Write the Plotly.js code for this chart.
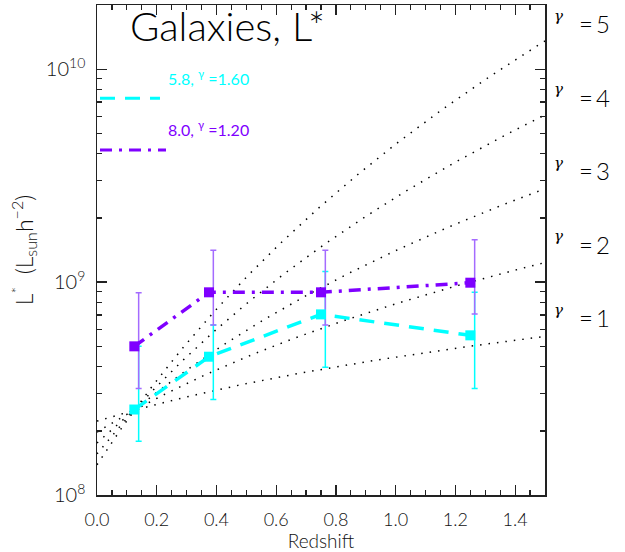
<!DOCTYPE html>
<html>
<head>
<meta charset="utf-8">
<script src="https://cdn.plot.ly/plotly-3.0.1.min.js"></script>
<style>html,body{margin:0;padding:0;background:#fff;}#chart{width:625px;height:552px;}</style>
</head>
<body>
<div id="chart"></div>
<script>
// ---- data ----
const redshift = [0.125, 0.375, 0.75, 1.25];

const cyanL   = [2.52e8, 4.46e8, 7.05e8, 5.62e8];
const cyanHi  = [5.0e8, 6.28e8, 1.12e9, 8.95e8];
const cyanLo  = [1.79e8, 2.81e8, 3.98e8, 3.16e8];

const purpleL  = [4.99e8, 8.95e8, 8.95e8, 9.93e8];
const purpleHi = [8.9e8, 1.41e9, 1.41e9, 1.58e9];
const purpleLo = [3.16e8, 6.28e8, 6.28e8, 7.08e8];

const legendLabels = ['5.8, <sup>γ</sup> =1.60', '8.0, <sup>γ</sup> =1.20'];

// model curves L = L0 * ((1+z)/(1+zPivot))^gamma
const gammas = [1, 2, 3, 4, 5];
const pivotZ = 0.125;
const pivotL = 2.5e8;
const zMax = 1.5;

const CYAN = '#00FFFF', PURPLE = '#7F00FF', PURPLE_ERR = '#A46BFF';

const traces = [];
const nGrid = 151;
const zGrid = Array.from({length: nGrid}, (_, i) => i * zMax / (nGrid - 1));
gammas.forEach(g => {
  traces.push({
    x: zGrid,
    y: zGrid.map(z => pivotL * Math.pow((1 + z) / (1 + pivotZ), g)),
    mode: 'lines', type: 'scatter', hoverinfo: 'skip',
    line: {color: '#000', width: 1.5, dash: '1.5px,7px'},
    showlegend: false
  });
});

function errTrace(y, hi, lo, color) {
  return {
    x: redshift.map(v => v + 0.0145), y: y, mode: 'markers', type: 'scatter',
    marker: {opacity: 0, size: 1}, showlegend: false, hoverinfo: 'skip',
    error_y: {type: 'data', symmetric: false,
      array: hi.map((h, i) => h - y[i]),
      arrayminus: lo.map((l, i) => y[i] - l),
      color: color, thickness: 1.5, width: 3}
  };
}
traces.push(errTrace(cyanL, cyanHi, cyanLo, CYAN));
traces.push(errTrace(purpleL, purpleHi, purpleLo, PURPLE_ERR));

traces.push({
  x: redshift, y: cyanL, mode: 'lines+markers', type: 'scatter',
  line: {color: CYAN, width: 3.5, dash: '15px,10px'},
  marker: {symbol: 'square', size: 10, color: CYAN}, showlegend: false
});
traces.push({
  x: redshift, y: purpleL, mode: 'lines+markers', type: 'scatter',
  line: {color: PURPLE, width: 3.5, dash: '12px,7px,3px,7px'},
  marker: {symbol: 'square', size: 10, color: PURPLE}, showlegend: false
});

const FONT = 'Lato, Liberation Sans, Arial, sans-serif';
const W = 300;
const AX = '#222';
const TXT = '#111';

const annotations = [
  {text: 'Galaxies, L*', x: 0.069, y: 0.958, xref: 'paper', yref: 'paper',
   xanchor: 'left', yanchor: 'middle', showarrow: false, font: {family: FONT, weight: W, size: 40, color: '#000'}},
  {text: legendLabels[0], x: 0.154, y: 0.853, xref: 'paper', yref: 'paper',
   xanchor: 'left', yanchor: 'middle', showarrow: false, font: {family: FONT, weight: 400, size: 16, color: CYAN}},
  {text: legendLabels[1], x: 0.154, y: 0.747, xref: 'paper', yref: 'paper',
   xanchor: 'left', yanchor: 'middle', showarrow: false, font: {family: FONT, weight: 400, size: 16, color: PURPLE}}
];
// gamma labels at right: small gamma raised, "=n" larger
const gammaY = [0.362, 0.512, 0.662, 0.812, 0.962];
gammas.forEach((g, i) => {
  annotations.push({text: 'γ', x: 1.0155, y: gammaY[i] + 0.016, xref: 'paper', yref: 'paper',
    xanchor: 'left', yanchor: 'middle', showarrow: false, font: {family: 'DejaVu Serif, serif', style: 'italic', size: 15, color: '#000'}});
  annotations.push({text: '=\u2009' + g, x: 1.072, y: gammaY[i], xref: 'paper', yref: 'paper',
    xanchor: 'left', yanchor: 'middle', showarrow: false, font: {family: FONT, weight: W, size: 24, color: '#000'}});
});

const shapes = [
  {type: 'line', xref: 'paper', yref: 'paper', x0: 0.0067, x1: 0.1406, y0: 0.8096, y1: 0.8096,
   line: {color: CYAN, width: 3, dash: '15px,10px'}},
  {type: 'line', xref: 'paper', yref: 'paper', x0: 0.0067, x1: 0.154, y0: 0.704, y1: 0.704,
   line: {color: PURPLE, width: 3, dash: '12px,7px,3px,7px'}}
];

const layout = {
  width: 625, height: 552,
  margin: {l: 97, r: 80, t: 5, b: 57},
  paper_bgcolor: '#fff', plot_bgcolor: '#fff',
  showlegend: false,
  font: {family: FONT, color: TXT},
  xaxis: {
    range: [0, 1.5], dtick: 0.2, tick0: 0, tickformat: '.1f',
    ticks: 'inside', ticklen: 10, tickcolor: AX, tickwidth: 1.2,
    mirror: 'allticks', showline: true, linecolor: AX, linewidth: 1.5,
    showgrid: false, zeroline: false,
    minor: {dtick: 0.05, ticks: 'inside', ticklen: 5, tickcolor: AX, showgrid: false},
    tickfont: {family: FONT, weight: W, size: 18, color: TXT},
    ticklabelstandoff: 8,
    title: {text: 'Redshift', font: {family: FONT, weight: W, size: 19, color: TXT}, standoff: 8}
  },
  yaxis: {
    type: 'log', range: [8, 10.301], dtick: 1, exponentformat: 'power',
    ticks: 'inside', ticklen: 10, tickcolor: AX, tickwidth: 1.2,
    mirror: 'allticks', showline: true, linecolor: AX, linewidth: 1.5,
    showgrid: false, zeroline: false,
    minor: {ticks: 'inside', ticklen: 5, tickcolor: AX, showgrid: false},
    tickfont: {family: FONT, weight: W, size: 16, color: TXT},
    ticklabelstandoff: 7,
    title: {text: 'L<sup>*</sup>  (L<sub>sun</sub>h<sup>−2</sup>)', font: {family: FONT, weight: W, size: 23, color: TXT}, standoff: 6}
  },
  annotations: annotations,
  shapes: shapes
};

Plotly.newPlot('chart', traces, layout, {displayModeBar: false, staticPlot: true});
</script>
</body>
</html>
